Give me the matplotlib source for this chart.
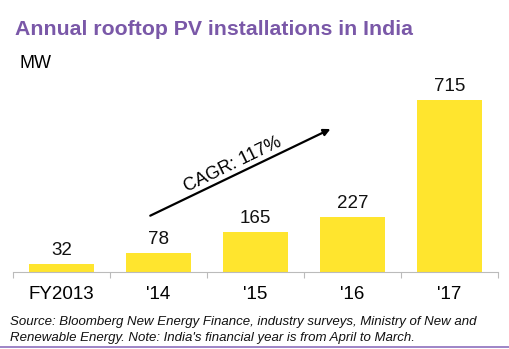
import matplotlib.pyplot as plt
import numpy as np

plt.rcParams['font.family'] = ['Liberation Sans', 'DejaVu Sans']

categories = ['FY2013', "'14", "'15", "'16", "'17"]
values = [32, 78, 165, 227, 715]
cagr_label = 'CAGR: 117%'

fig = plt.figure(figsize=(5.10, 3.49), dpi=100)
ax = fig.add_axes([0.0255, 0.2206, 0.9505, 0.5504])

x = np.arange(len(categories))
ax.bar(x, values, width=0.67, color='#FFE52E', zorder=2)
for xi, v in zip(x, values):
    ax.text(xi, v + 22, str(v), ha='center', va='bottom', fontsize=13.5, color='#111111')

ax.set_xlim(-0.5, len(categories) - 0.5)
ax.set_ylim(0, 798)
ax.set_yticks([])
ax.set_xticks(np.arange(len(categories) + 1) - 0.5, minor=False)
ax.set_xticklabels([])
ax.set_xticks(x, minor=True)
ax.set_xticklabels(categories, minor=True, fontsize=13.5)
ax.tick_params(axis='x', which='major', length=4, color='#BBBBBB')
ax.tick_params(axis='x', which='minor', length=0, pad=10)
for s in ['top', 'right', 'left']:
    ax.spines[s].set_visible(False)
ax.spines['bottom'].set_color('#BBBBBB')

# growth arrow
ax.annotate('', xy=(2.80, 599), xytext=(0.89, 229),
            arrowprops=dict(arrowstyle='-|>', color='black', lw=1.6, mutation_scale=10))
ax.text(1.77, 445, cagr_label, rotation=26, ha='center', va='center', fontsize=13,
        rotation_mode='anchor')

fig.text(0.029, 0.915, 'Annual rooftop PV installations in India', fontsize=15.3,
         fontweight='bold', color='#7A58A8', va='center', ha='left')
fig.text(0.039, 0.818, 'MW', fontsize=13, va='center', ha='left')
fig.text(0.02, 0.055, 'Source: Bloomberg New Energy Finance, industry surveys, Ministry of New and\n'
         "Renewable Energy. Note: India's financial year is from April to March.",
         fontsize=9.5, style='italic', va='center', ha='left', linespacing=1.4, color='#111111')
fig.add_artist(plt.Line2D([0, 1], [0.006, 0.006], color='#8E6FBE', lw=1.2))

fig.savefig('out.png', dpi=100)
